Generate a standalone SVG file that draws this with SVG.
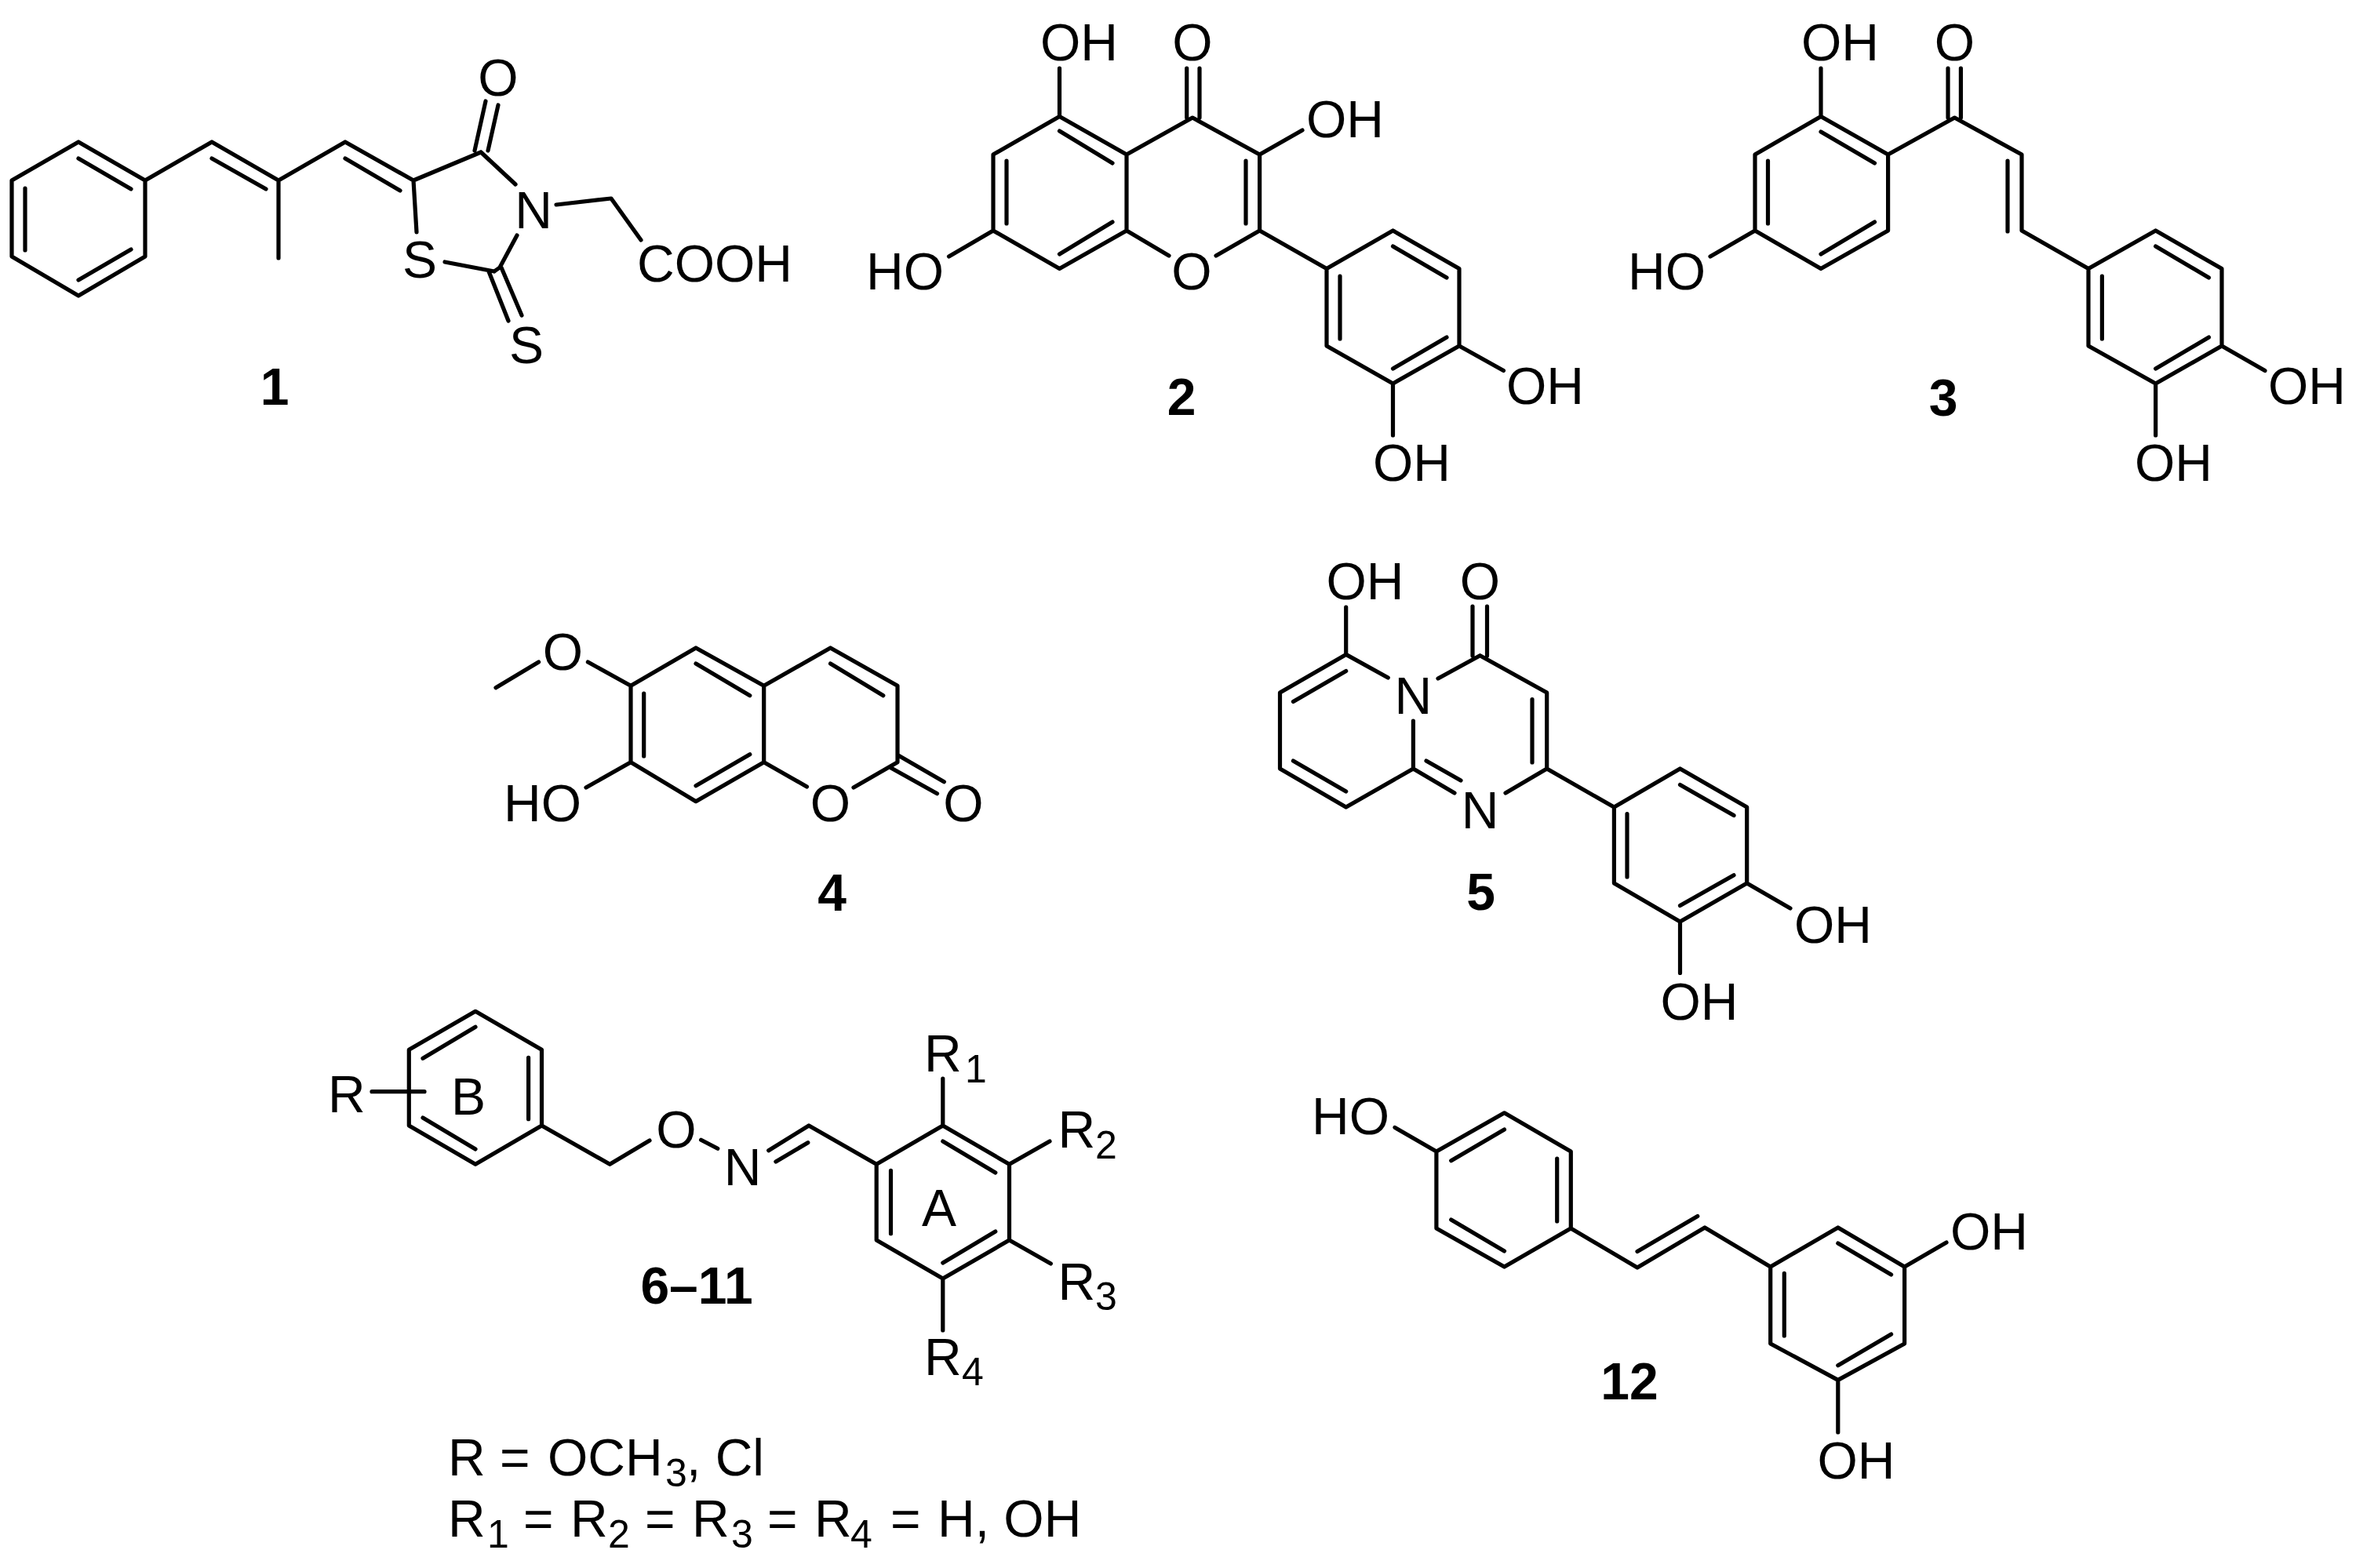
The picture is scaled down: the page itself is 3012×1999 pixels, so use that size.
<svg xmlns="http://www.w3.org/2000/svg" width="3012" height="1999" viewBox="0 0 3012 1999">
<style>
.b{fill:none;stroke:#000;stroke-width:5.2;stroke-linejoin:round;stroke-linecap:round}
text{font-family:"Liberation Sans",Arial,sans-serif;font-size:66px;fill:#000}
.m{text-anchor:middle}
.n{font-weight:bold;text-anchor:middle}
.s{font-size:50px}
</style>
<rect width="3012" height="1999" fill="#fff"/>
<g id="bonds" class="b">
<path id="bonds-1" d="M100 181L185 230V327L100 377L15 327V230ZM100 202L167 241M32 240V319M100 357L167 318M185 230L270 181L355 230L440 181L527 230L613 194M270 202L339 241M355 230V329M440 202L510 243M605 192L619 129M622 192L635 134M613 194L657 235M659 300L637 341L630 346M527 230L531 296M567 334L630 346M623 346L648 409M639 341L665 402M709 261L779 253L817 306"/>
<path id="bonds-2" d="M1350.5 148.5L1436 197V294L1350.5 342.5L1266 294V197ZM1436 197L1520 150L1605.6 197V294M1350.5 167L1418 208M1283 205V285M1350.5 324L1418 283M1588 205V285M1350.5 87V148.5M1512.7 87V150M1529 87V150M1605.6 197L1660 166M1266 294L1209.5 327M1436 294L1490 326M1550 326L1605.6 294L1691 342.5M1691 342.5L1775.5 294L1860 342.5V441L1775.5 489L1691 441ZM1775.5 314L1844 354M1708 352V432M1775.5 470L1844 430M1860 441L1916.5 472.6M1775.5 489V555"/>
<path id="bonds-3" d="M2321 148.5L2406.6 197V294L2321 342.5L2237 294V197ZM2321 168L2389.5 208M2253.5 205V285M2321 324L2389.5 283M2321 87V148.5M2237 294L2180 327M2406.6 197L2491.4 150L2577 197V294L2662 342.5M2483 87V150M2499.4 87V150M2559 205V295M2662 342.5L2747.7 294L2832 342.5V441L2747.7 489L2662 441ZM2747.7 314L2815.5 354M2679.4 352V432M2747.7 470L2815.5 430M2832 441L2887 472.6M2747.7 489V555"/>
<path id="bonds-4" d="M887 826L973.7 874.3V971.7L887 1021.7L804 971.7V874.3ZM973.7 874.3L1058.5 826L1144 874.3V971.7L1088 1004M973.7 971.7L1028.5 1003M887 846L955.8 886.7M820.7 884V964M887 1001.7L955.8 961.7M1058.5 846L1125.8 886.7M1134 978L1194.5 1011.7M1145 963L1203.4 996.7M804 874.3L749.4 844M686.6 844L632 876.7M804 971.7L747 1004"/>
<path id="bonds-5" d="M1769.3 864L1715.7 834.4L1631.5 883V980L1715.7 1029L1801.4 980V919M1715.7 774V834.4M1833 865L1886.5 835.7L1971.7 883V980L1919 1011M1801.4 980L1854 1011M1715.7 855.5L1648.4 894.5M1648.4 970L1715.7 1009M1818 970L1862 995M1953 891.5V972M1877 773V836M1895.5 773V836M1971.7 980L2057.4 1029M2057.4 1029L2141.5 980L2226.7 1029V1126L2141.5 1175L2057.4 1126ZM2141.5 1000.6L2210 1039.6M2074 1037.5V1118M2141.5 1154.6L2210 1115.7M2226.7 1126L2282 1158M2141.5 1175V1240.5"/>
<path id="bonds-6-11" d="M606 1289.3L690.5 1338.3V1435L606 1484.3L521.3 1435V1338.3ZM606 1309.3L539 1349.3M673.6 1348.3V1426.7M539 1425L606 1465M474 1391.7H541M690.5 1435L777.3 1484.3L828 1454M893.6 1453.3L914.8 1464.3M979.7 1466.7L1031 1435L1117.2 1484.3M988.9 1481L1029.8 1456.7M1117.2 1484.3L1201.8 1435L1286.5 1484.3V1581L1201.8 1630L1117.2 1581ZM1201.8 1455L1268.8 1495M1135.5 1492.3V1572.7M1201.8 1610L1268.8 1570M1201.8 1375V1435M1286.5 1484.3L1338 1455M1286.5 1581L1339.4 1611M1201.8 1630V1696"/>
<path id="bonds-12" d="M1917.5 1418.8L2002.3 1468V1566L1917.5 1615L1830.9 1566V1468ZM1917.5 1440L1849.7 1479.8M1984.7 1477V1557M1849.7 1555L1917.5 1595M1830.9 1468L1778 1437.4M2002.3 1566L2087 1616L2173 1565L2256.7 1615M2087 1595.4L2163.8 1550.5M2256.7 1615L2342.8 1565L2427.6 1615V1713L2342.8 1759.4L2256.7 1713ZM2342.8 1585L2410.6 1625M2274.3 1623.4V1703M2342.8 1740.7L2410.6 1701M2427.6 1615L2481 1584M2342.8 1759.4V1826"/>
</g>
<g id="compound-1">
<text class="m" x="635" y="122">O</text><text class="m" x="680" y="291">N</text><text class="m" x="535" y="354">S</text><text class="m" x="671" y="463">S</text><text x="812" y="359">COOH</text><text class="n" x="350" y="516">1</text>
</g>
<g id="compound-2">
<text x="1326" y="77">OH</text><text class="m" x="1520" y="77">O</text><text x="1665" y="175">OH</text><text x="1104" y="369">HO</text><text class="m" x="1519" y="369">O</text><text x="1920" y="515">OH</text><text x="1750" y="613">OH</text><text class="n" x="1506" y="529">2</text>
</g>
<g id="compound-3">
<text x="2296" y="77">OH</text><text class="m" x="2491.4" y="77">O</text><text x="2075" y="369">HO</text><text x="2891" y="515">OH</text><text x="2721" y="613">OH</text><text class="n" x="2477" y="530">3</text>
</g>
<g id="compound-4">
<text class="m" x="717.5" y="854">O</text><text x="642" y="1047">HO</text><text class="m" x="1058.5" y="1047">O</text><text class="m" x="1228" y="1047">O</text><text class="n" x="1060.7" y="1161">4</text>
</g>
<g id="compound-5">
<text x="1690.5" y="764">OH</text><text class="m" x="1886.5" y="764">O</text><text class="m" x="1801.4" y="910">N</text><text class="m" x="1886.5" y="1056">N</text><text x="2287" y="1202">OH</text><text x="2116.5" y="1300">OH</text><text class="n" x="1887.6" y="1160">5</text>
</g>
<g id="compound-6-11">
<text x="418" y="1418">R</text><text x="575" y="1421">B</text><text class="m" x="862" y="1463">O</text><text class="m" x="946.5" y="1511">N</text>
<text class="m" x="1197" y="1563">A</text>
<text x="1178" y="1366">R<tspan class="s" x="1230" dy="14">1</tspan></text>
<text x="1348.5" y="1463">R<tspan class="s" x="1396" dy="14">2</tspan></text>
<text x="1348.5" y="1657">R<tspan class="s" x="1396" dy="13">3</tspan></text>
<text x="1178" y="1753">R<tspan class="s" x="1226" dy="13">4</tspan></text>
<text class="n" x="888" y="1662">6–11</text>
</g>
<g id="compound-12">
<text x="1672" y="1446">HO</text><text x="2486" y="1593">OH</text><text x="2316.5" y="1885">OH</text><text class="n" x="2077" y="1784">12</text>
</g>
<g id="legend">
<text x="571" y="1881">R = <tspan x="698">OCH</tspan><tspan class="s" x="848" dy="14">3</tspan><tspan x="875" dy="-14">, Cl</tspan></text>
<text x="571" y="1959">R<tspan class="s" x="621" dy="14">1</tspan><tspan x="667" dy="-14">=</tspan><tspan x="727">R</tspan><tspan class="s" x="775" dy="14">2</tspan><tspan x="822" dy="-14">=</tspan><tspan x="882">R</tspan><tspan class="s" x="932" dy="14">3</tspan><tspan x="978" dy="-14">=</tspan><tspan x="1038">R</tspan><tspan class="s" x="1084" dy="14">4</tspan><tspan x="1135" dy="-14">=</tspan><tspan x="1195">H, OH</tspan></text>
</g>
</svg>
